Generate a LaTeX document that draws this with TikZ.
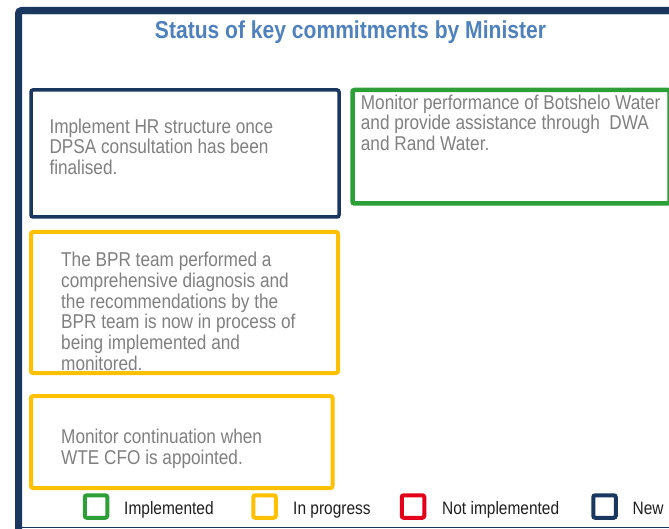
\documentclass[tikz,border=0pt]{standalone}
\usepackage{fontspec}
\setmainfont[FakeStretch=0.86]{Liberation Sans}
\definecolor{navy}{RGB}{25,55,95}
\definecolor{titleblue}{RGB}{79,129,189}
\definecolor{okgreen}{RGB}{44,160,55}
\definecolor{progyellow}{RGB}{255,192,0}
\definecolor{notred}{RGB}{228,0,27}
\definecolor{txtgray}{RGB}{128,128,128}
\tikzset{
  statusbox/.style={draw, rectangle, rounded corners=2pt, inner sep=0pt, outer sep=0pt},
  navybox/.style={statusbox, draw=navy, line width=3.5pt},
  greenbox/.style={statusbox, draw=okgreen, line width=4.5pt},
  yellowbox/.style={statusbox, draw=progyellow, line width=4pt},
  boxtext/.style={anchor=base west, inner sep=0pt, align=left, text=txtgray,
    font=\fontsize{20}{20.7}\selectfont},
  legsq/.style={draw, rectangle, rounded corners=2pt, line width=4pt, inner sep=0pt,
    minimum size=22.5pt},
  legtext/.style={anchor=base west, inner sep=0pt, text={black!88},
    font=\fontsize{18}{20}\selectfont},
}
\begin{document}
\begin{tikzpicture}[x=1pt,y=-1pt]
\useasboundingbox (0,0) rectangle (669,529);
\fill[white] (0,0) rectangle (669,529);
% outer frame
\coordinate (fbl) at (18.5,530);
\coordinate (ftl) at (18.5,10.5);
\coordinate (ftr) at (672,10.5);
\coordinate (bl) at (20,527.5);
\coordinate (br) at (672,527.5);
\draw[navy!25, line width=1pt] (22,15) -- (672,15);
\draw[navy, line width=1.5pt] (bl) -- (br);
\draw[navy, line width=7pt, rounded corners=3pt] (fbl) -- (ftl) -- (ftr);
% title
\node[anchor=base, inner sep=0pt, text=titleblue, font=\fontsize{24.5}{26}\selectfont\bfseries] (title) at (350.5,39) {Status of key commitments by Minister};
% text (anchor = baseline of the last line)
\node[boxtext] (t1) at (49.3,174.7) {Implement HR structure once\\DPSA consultation has been\\finalised.};
\node[boxtext] (t2) at (360.7,150.7) {Monitor performance of Botshelo Water\\and provide assistance through\ \ DWA\\and Rand Water.};
\node[boxtext] (t3) at (61,370.2) {The BPR team performed a\\comprehensive diagnosis and\\the recommendations by the\\BPR team is now in process of\\being implemented and\\monitored.};
\node[boxtext] (t4) at (61,464) {Monitor continuation when\\WTE CFO is appointed.};
% boxes
\node[navybox, minimum width=308pt, minimum height=127pt] (b1) at (185,153.5) {};
\node[greenbox, minimum width=317pt, minimum height=113.5pt] (b2) at (511,146.75) {};
\node[yellowbox, minimum width=307pt, minimum height=141pt] (b3) at (184.5,302.5) {};
\node[yellowbox, minimum width=301.5pt, minimum height=92pt] (b4) at (181.75,442) {};
% legend
\node[legsq, draw=okgreen] (lg) at (96,506.5) {};
\node[legtext] (lgt) at (124,514) {Implemented};
\node[legsq, draw=progyellow] (ly) at (264.5,506.5) {};
\node[legtext] (lyt) at (293,514) {In progress};
\node[legsq, draw=notred] (lr) at (413,506.5) {};
\node[legtext] (lrt) at (442,514) {Not implemented};
\node[legsq, draw=navy] (ln) at (604.5,506.5) {};
\node[legtext] (lnt) at (632.5,514) {New};
\end{tikzpicture}
\end{document}
